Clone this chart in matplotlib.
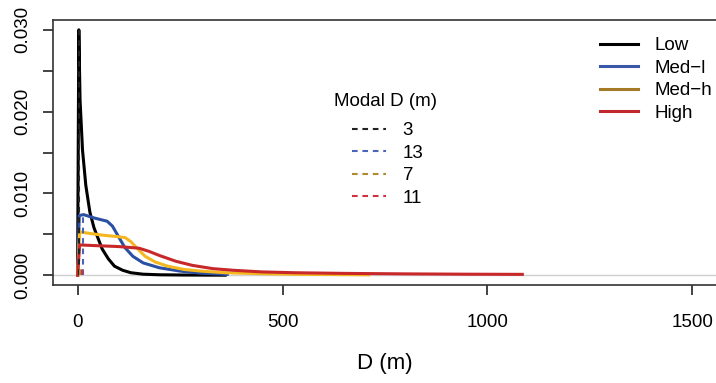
import numpy as np
import matplotlib
matplotlib.use("Agg")
import matplotlib.pyplot as plt
from matplotlib.lines import Line2D

plt.rcParams['font.family'] = ['Liberation Sans', 'DejaVu Sans']

# dispersal kernels (D in m, density)
low_d = [0, 3, 6, 12, 20, 30, 40, 50, 60, 75, 90, 110, 130, 160, 200, 260, 360]
low_y = [0.0, 0.0300, 0.0214, 0.0153, 0.0110, 0.0077, 0.0058, 0.0045, 0.0032,
         0.0020, 0.0011, 0.0006, 0.0003, 0.00012, 0.00005, 0.00002, 0.0]

medl_d = [0, 4, 15, 40, 72, 85, 100, 115, 135, 160, 200, 250, 300, 365]
medl_y = [0.0, 0.0073, 0.0074, 0.0070, 0.0066, 0.0060, 0.0047, 0.0034, 0.0023,
          0.0015, 0.0009, 0.0005, 0.00025, 0.0001]

medh_d = [0, 5, 30, 60, 100, 116, 130, 145, 165, 190, 220, 260, 300, 360, 450, 550, 710]
medh_y = [0.0, 0.0053, 0.0051, 0.0049, 0.0047, 0.0046, 0.0041, 0.0033, 0.0023,
          0.0016, 0.0011, 0.0007, 0.0005, 0.0003, 0.00018, 0.0001, 0.00005]

high_d = [0, 5, 50, 100, 150, 175, 200, 240, 280, 330, 380, 450, 530, 650, 800, 950, 1085]
high_y = [0.0, 0.0037, 0.0036, 0.0035, 0.0033, 0.0029, 0.0024, 0.0017, 0.0012,
          0.0008, 0.0006, 0.0004, 0.0003, 0.00022, 0.00016, 0.00012, 0.0001]

groups = ['Low', 'Med\u2212l', 'Med\u2212h', 'High']
modal_d = [3, 13, 7, 11]
modal_top = [0.0300, 0.0073, 0.0007, 0.0007]

curve_cols = ['#000000', '#2a4fa3', '#f5b71f', '#c8282a']
legend_cols = ['#000000', '#3a58a8', '#a57a26', '#c0282e']
dash_cols = ['#222222', '#4a64b8', '#b08a30', '#d03040']

fig = plt.figure(figsize=(7.16, 3.83), dpi=100)
ax = fig.add_axes([53 / 716, 98 / 383, 664 / 716, 265 / 383])

ax.axhline(0, color='#d0d0d0', lw=1, zorder=1)

xs = [low_d, medl_d, medh_d, high_d]
ys = [low_y, medl_y, medh_y, high_y]
for i in range(4):
    ax.plot(xs[i], ys[i], color=curve_cols[i], lw=2.2, zorder=3,
            solid_joinstyle='round')
for i in range(4):
    ax.plot([modal_d[i], modal_d[i]], [0, modal_top[i]], color=dash_cols[i],
            lw=1.5, dashes=(2.7, 2.3), zorder=4)

ax.set_xlim(-60, 1560)
ax.set_ylim(-0.0012, 0.0312)
ax.set_xticks([0, 500, 1000, 1500])
yt = [0, 0.005, 0.010, 0.015, 0.020, 0.025, 0.030]
ax.set_yticks(yt)
ax.set_yticklabels(['0.000', '', '0.010', '', '0.020', '', '0.030'])
ax.tick_params(axis='both', length=7.5, width=1.1, labelsize=13.5, color='#111111')
ax.tick_params(axis='x', pad=13.5)
ax.tick_params(axis='y', pad=8.5)
for lab in ax.get_yticklabels():
    lab.set_rotation(90)
    lab.set_va('center')
for s in ax.spines.values():
    s.set_linewidth(1.2)
    s.set_color('#333333')

ax.set_xlabel('D (m)', fontsize=16, labelpad=16)

h1 = [Line2D([], [], color=legend_cols[i], lw=2.2) for i in range(4)]
leg1 = ax.legend(h1, groups, loc='upper left', frameon=False, fontsize=13.5,
                 bbox_to_anchor=(600 / 716, 1 - 37 / 383), bbox_transform=fig.transFigure,
                 borderaxespad=0, borderpad=0, handlelength=2.05, handletextpad=0.85,
                 labelspacing=0.29)
ax.add_artist(leg1)

h2 = [Line2D([], [], color=dash_cols[i], lw=1.5, dashes=(2.7, 2.3)) for i in range(4)]
ax.legend(h2, [str(m) for m in modal_d], loc='upper left', frameon=False, fontsize=13.5,
          bbox_to_anchor=(352 / 716, 1 - 122 / 383), bbox_transform=fig.transFigure,
          borderaxespad=0, borderpad=0, handlelength=1.8, handletextpad=0.9,
          labelspacing=0.29)
fig.text(385 / 716, 1 - 101 / 383, 'Modal D (m)', fontsize=13.5, ha='center', va='center')

fig.savefig('out.png', dpi=100)
